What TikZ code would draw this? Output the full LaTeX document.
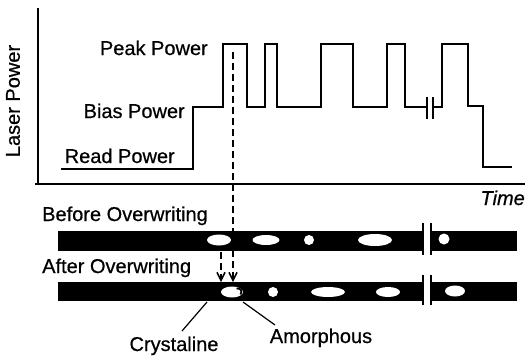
\documentclass[tikz,border=0pt]{standalone}
\usepackage{fontspec}
\setmainfont{Liberation Sans}[FakeBold=0.6]
\usepackage{tikz}
\usetikzlibrary{arrows.meta,positioning}

\begin{document}
\begin{tikzpicture}[x=1pt, y=-1pt,
    wave/.style={line width=2.8pt, line join=miter},
    axis/.style={line width=2.2pt},
    tape/.style={fill=black},
    hole/.style={fill=white},
    cutbar/.style={line width=1.3pt},
    lbl/.style={font=\fontsize{20}{24}\selectfont, inner sep=0pt},
    leader/.style={line width=1.2pt},
    probe/.style={line width=1.2pt, dash pattern=on 7pt off 4pt, -{Straight Barb[length=8pt,width=8pt,line width=1.5pt]}}]
    \useasboundingbox (0,0) rectangle (525,357);
    % Axes
    \draw[axis] (38,8) -- (38,184);
    \draw[axis] (35,184) -- (525,184);
    \node[lbl, rotate=90] (laser) at (13,101) {Laser Power};
    \node[lbl, anchor=base east, font=\fontsize{20}{24}\selectfont\itshape] (time) at (525,205) {Time};
    % Power levels
    \node[lbl, anchor=base east] (peak) at (208,55) {Peak Power};
    \node[lbl, anchor=base east] (bias) at (185,118) {Bias Power};
    \node[lbl, anchor=base east] (read) at (175,163) {Read Power};
    % Pulse train
    \draw[wave] (61,169) -- (193,169) -- (193,107) -- (223,107) -- (223,44) -- (247,44) -- (247,107)
        -- (265,107) -- (265,44) -- (277,44) -- (277,107) -- (321,107) -- (321,44) -- (353,44)
        -- (353,107) -- (387,107) -- (387,44) -- (405,44) -- (405,107) -- (427,107);
    \draw[wave] (433,107) -- (442,107) -- (442,44) -- (468,44) -- (468,106) -- (483,106)
        -- (483,167) -- (512,167);
    \draw[cutbar] (427,97) -- (427,119);
    \draw[cutbar] (433,97) -- (433,119);
    % Track before overwriting
    \node[lbl, anchor=base west] (before) at (42,221) {Before Overwriting};
    \fill[tape] (58,231) rectangle (423,251);
    \fill[tape] (431,231) rectangle (517,251);
    \draw[cutbar] (423,223) -- (423,255);
    \draw[cutbar] (431,223) -- (431,255);
    \fill[hole] (219,240) ellipse [x radius=12, y radius=5.5];
    \fill[hole] (266,240) ellipse [x radius=13.5, y radius=5];
    \fill[hole] (309,240) circle [radius=5];
    \fill[hole] (375,240) ellipse [x radius=17, y radius=6];
    \fill[hole] (444,239) circle [radius=5.5];
    % Track after overwriting
    \node[lbl, anchor=base west] (after) at (42,273) {After Overwriting};
    \fill[tape] (58,282) rectangle (423,301);
    \fill[tape] (431,282) rectangle (517,301);
    \draw[cutbar] (423,275) -- (423,305);
    \draw[cutbar] (431,275) -- (431,305);
    \fill[hole] (232,292) ellipse [x radius=11, y radius=5.5];
    \draw[line width=1.8pt] (236.5,288.5) .. controls (241,288) and (242.5,291) .. (240.5,294.5);
    \fill[hole] (273,292) circle [radius=5];
    \fill[hole] (328,292) ellipse [x radius=17, y radius=5];
    \fill[hole] (388,292) ellipse [x radius=12, y radius=5];
    \fill[hole] (455,291) ellipse [x radius=10, y radius=5.5];
    % Dashed guides
    \coordinate (guideA) at (233,52);
    \coordinate (guideAend) at (233,282);
    \coordinate (guideB) at (221,252);
    \coordinate (guideBend) at (221,282);
    \draw[probe] (guideA) -- (guideAend);
    \draw[probe] (guideB) -- (guideBend);
    % Phase labels
    \node[lbl, anchor=base] (crys) at (174,351) {Crystaline};
    \node[lbl, anchor=base] (amor) at (321,343) {Amorphous};
    \coordinate (crysfoot) at (182,331);
    \coordinate (crystip) at (207,302);
    \coordinate (amorfoot) at (275,325);
    \coordinate (amortip) at (243,302);
    \draw[leader] (crysfoot) -- (crystip);
    \draw[leader] (amorfoot) -- (amortip);
\end{tikzpicture}
\end{document}
